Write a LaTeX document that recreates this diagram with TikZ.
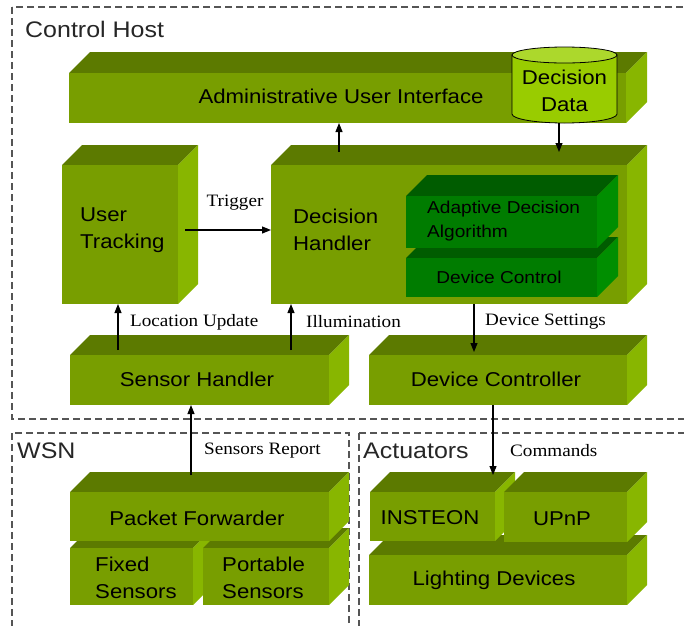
\documentclass[tikz,border=0pt]{standalone}
\usepackage{fontspec}
\setmainfont{Liberation Sans}
\newfontfamily\boxfont[FakeStretch=1.11]{Liberation Sans}
\newfontfamily\lblfont[FakeStretch=1.1]{Liberation Serif}
\usetikzlibrary{arrows.meta,calc}
\definecolor{olfront}{RGB}{120,158,0}
\definecolor{oltop}{RGB}{92,122,0}
\definecolor{olside}{RGB}{136,182,0}
\definecolor{dgfront}{RGB}{0,124,0}
\definecolor{dgtop}{RGB}{0,92,0}
\definecolor{dgside}{RGB}{0,142,0}
\definecolor{cylbody}{RGB}{153,204,0}
\definecolor{cyltop}{RGB}{172,216,44}
\definecolor{framegray}{RGB}{85,85,85}
\newcommand\cuboid[7]{%
  \fill[#2top] (#3,-#4) -- ++(#7,#7) -- ({#5+#7},{-#4+#7}) -- (#5,-#4) -- cycle;
  \fill[#2side] (#5,-#4) -- ++(#7,#7) -- ({#5+#7},{-#6+#7}) -- (#5,-#6) -- cycle;
  \node[fill=#2front, inner sep=0pt, outer sep=0pt, minimum width={(#5-#3)*1pt},
        minimum height={(#6-#4)*1pt}, anchor=north west] (#1) at (#3,-#4) {};
}
\tikzset{
  bx/.style={font=\boxfont\fontsize{20}{27}\selectfont, inner sep=0pt, align=left},
  inbx/.style={font=\boxfont\fontsize{17.2}{24}\selectfont, inner sep=0pt, align=left},
  lbl/.style={font=\lblfont\fontsize{17.4}{20}\selectfont, inner sep=0pt, anchor=west},
  frlbl/.style={font=\boxfont\fontsize{22.5}{26}\selectfont, inner sep=0pt, anchor=west, text=black!85},
  frame/.style={draw=framegray, line width=1.1pt, dash pattern=on 7pt off 4pt},
  arr/.style={-{Triangle[length=9pt,width=7pt]}, line width=1.1pt}
}
\begin{document}
\begin{tikzpicture}[x=1pt,y=1pt]
\useasboundingbox (0,0) rectangle (684,-625);
\clip (0,0) rectangle (684,-625);
% frames
\draw[frame] (12,-7) rectangle (700,-419);
\draw[frame] (12,-433) rectangle (349,-640);
\draw[frame] (359,-433) rectangle (700,-640);
\node[frlbl] (fch) at (25,-29.5) {Control Host};
\node[frlbl] (fwsn) at (17,-451) {WSN};
\node[frlbl] (fact) at (363,-451) {Actuators};
% admin UI with database
\cuboid{admin}{ol}{69}{73}{626}{123}{21}
\fill[cylbody, draw=black, line width=0.8pt] (512,-55) -- (512,-114) arc[start angle=180, end angle=360, x radius=52.5, y radius=9] -- (617,-55) -- cycle;
\fill[cyltop, draw=black, line width=0.8pt] (564.5,-55) ellipse[x radius=52.5, y radius=8];
\coordinate (ddb) at (559,-123);
\node[bx, align=center] (tdd) at (564.5,-91) {Decision\\Data};
\node[bx] (tadmin) at (341,-96) {Administrative User Interface};
% user tracking, decision handler
\cuboid{ut}{ol}{62}{165}{178}{304}{20}
\cuboid{dh}{ol}{271}{165}{627}{304}{20}
\cuboid{dctl}{dg}{406}{258}{597}{297}{21}
\cuboid{ada}{dg}{406}{196}{597}{248}{21}
\node[bx, anchor=west] (tut) at (80,-230) {User\\Tracking};
\node[bx, anchor=west] (tdh) at (293,-230) {Decision\\Handler};
\node[inbx, anchor=west] (tada) at (427,-221) {Adaptive Decision\\Algorithm};
\node[inbx] (tdctl) at (499,-277) {Device Control};
% handlers
\cuboid{sh}{ol}{70}{355}{329}{405}{20}
\cuboid{dc}{ol}{369}{355}{627}{405}{20}
\node[bx] (tsh) at (197,-379) {Sensor Handler};
\node[bx] (tdc) at (496,-379) {Device Controller};
% WSN
\cuboid{fs}{ol}{70}{548}{193}{605}{20}
\cuboid{ps}{ol}{203}{548}{329}{605}{20}
\cuboid{pf}{ol}{70}{492}{329}{541}{20}
\node[bx] (tpf) at (197,-518) {Packet Forwarder};
\node[bx, anchor=west] (tfs) at (95,-578) {Fixed\\Sensors};
\node[bx, anchor=west] (tps) at (222,-578) {Portable\\Sensors};
% Actuators
\cuboid{ld}{ol}{369}{555}{627}{605}{20}
\cuboid{ins}{ol}{370}{492}{495}{541}{20}
\cuboid{upnp}{ol}{504}{492}{627}{542}{20}
\node[bx] (tins) at (430,-518) {INSTEON};
\node[bx] (tupnp) at (562,-519) {UPnP};
\node[bx] (tld) at (494,-580) {Lighting Devices};
% connectors
\coordinate (ax) at (339,0);
\coordinate (tg) at (185,-230);
\coordinate (lux) at (118,0);
\coordinate (ilx) at (291,0);
\coordinate (dsx) at (474,0);
\coordinate (srx) at (191,0);
\coordinate (cmx) at (493,0);
\draw[arr] ([yshift=13pt]dh.north -| ax) -- (admin.south -| ax);
\draw[arr] (ddb) -- ([yshift=13pt]dh.north -| ddb);
\draw[arr] (tg) -- (tg -| dh.west);
\draw[arr] ([yshift=5pt]sh.north -| lux) -- (ut.south -| lux);
\draw[arr] ([yshift=5pt]sh.north -| ilx) -- (dh.south -| ilx);
\draw[arr] (dh.south -| dsx) -- ([yshift=3pt]dc.north -| dsx);
\draw[arr] ([yshift=17pt]pf.north -| srx) -- (sh.south -| srx);
\draw[arr] (dc.south -| cmx) -- ([yshift=17pt]ins.north -| cmx);
% labels
\node[lbl, anchor=center] (ltrig) at (235,-203) {Trigger};
\node[lbl] (lloc) at (130,-322) {Location Update};
\node[lbl] (lill) at (306,-322) {Illumination};
\node[lbl] (lds) at (485,-322) {Device Settings};
\node[lbl] (lsr) at (204,-451) {Sensors Report};
\node[lbl] (lcmd) at (510,-451) {Commands};
\end{tikzpicture}
\end{document}
